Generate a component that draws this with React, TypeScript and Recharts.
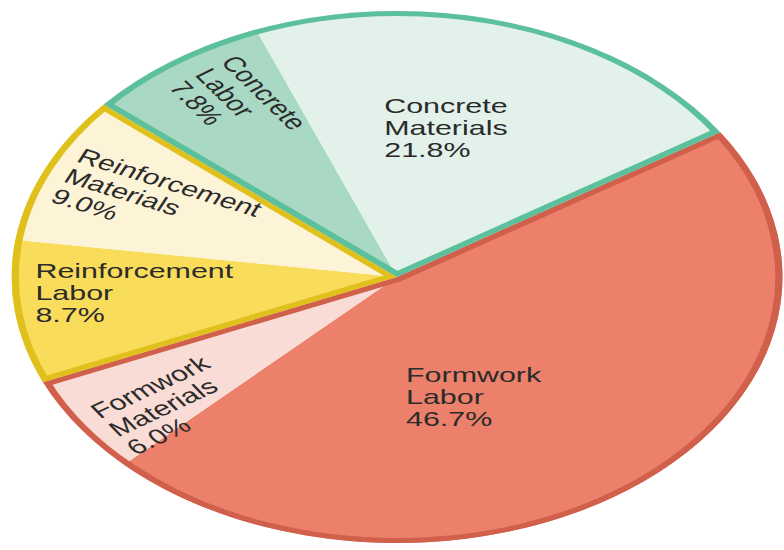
import React from 'react';
import { PieChart, Pie, Cell, Sector } from 'recharts';

// cost breakdown, clockwise from the upper right
const slices = [
  'Formwork Labor',
  'Formwork Materials',
  'Reinforcement Labor',
  'Reinforcement Materials',
  'Concrete Labor',
  'Concrete Materials',
];
const shares = [46.7, 6.0, 8.7, 9.0, 7.8, 21.8];
const groups = ['Formwork', 'Reinforcement', 'Concrete'];

const fills = ['#ec806a', '#f9dcd5', '#f8dc5a', '#fdf4d8', '#a9d8c4', '#e2f1ea'];
const groupStroke: Record<string, string> = {
  Formwork: '#d0604c',
  Reinforcement: '#e0c01c',
  Concrete: '#5cc09c',
};

const data = slices.map((name, i) => ({ name, value: shares[i] }));
const groupData = groups.map((g) => ({
  name: g,
  value: slices.reduce((s, n, i) => (n.startsWith(g) ? s + shares[i] : s), 0),
}));

// the reference is a round pie stretched sideways
const STRETCH = 1.449;
const W = 541;
const H = 550;
const CX = 274;
const CY = 277;
const R = 266;

const FONT = 21;
const LINE = 22;
const CAP = 15;
const FONT_FAMILY = "'Liberation Sans', Arial, sans-serif";
const RAD = Math.PI / 180;

// big slices get a centred, level label; small ones read inwards from the rim
const LABEL_TWEAK: Record<string, { da: number; r: number }> = {
  'Concrete Materials': { da: 5, r: 0.575 },
  'Formwork Labor': { da: -15, r: 0.49 },
  'Reinforcement Labor': { da: -4, r: 0.94 },
  'Formwork Materials': { da: 4, r: 0.94 },
  'Concrete Labor': { da: -2.5, r: 0.925 },
};

let ctx: CanvasRenderingContext2D | null = null;
const measure = (s: string) => {
  if (!ctx) ctx = document.createElement('canvas').getContext('2d');
  if (!ctx) return s.length * FONT * 0.52;
  ctx.font = `${FONT}px ${FONT_FAMILY}`;
  return ctx.measureText(s).width;
};

const renderLabel = (p: any) => {
  const { cx, cy, midAngle, outerRadius, index } = p;
  const name = slices[index];
  const lines = [...name.split(' '), `${shares[index].toFixed(1)}%`];
  const radial = shares[index] < 10;
  const tw = LABEL_TWEAK[name] ?? { da: 0, r: 0.94 };
  const a = (midAngle + tw.da) * RAD;
  const ax = cx + outerRadius * tw.r * Math.cos(a);
  const ay = cy - outerRadius * tw.r * Math.sin(a);
  const y0 = -(LINE * (lines.length - 1) + CAP) / 2 + CAP;

  let rot = 0;
  let x0 = 0;
  if (radial) {
    const m = midAngle * RAD;
    rot = Math.atan2(Math.sin(m), -Math.cos(m)) / RAD;
    if (Math.abs(rot) < 10) rot = 0;
  } else {
    x0 = -Math.max(...lines.map(measure)) / 2;
  }

  return (
    <g key={`lbl-${index}`} transform={`translate(${ax},${ay}) rotate(${rot})`}>
      {lines.map((t, i) => (
        <text
          key={i}
          x={x0}
          y={y0 + i * LINE}
          fill="#2b2b2b"
          fontSize={FONT}
          fontFamily={FONT_FAMILY}
          textAnchor="start"
        >
          {t}
        </text>
      ))}
    </g>
  );
};

// group outline drawn inside its own sector so neighbouring borders sit side by side
const GroupOutline = (props: any) => {
  const { cx, cy, innerRadius, outerRadius, startAngle, endAngle, index, name, payload } = props;
  const g = name ?? payload?.name ?? groups[index];
  const id = `grp-clip-${index}`;
  const geo = { cx, cy, innerRadius, outerRadius, startAngle, endAngle };
  return (
    <g>
      <defs>
        <clipPath id={id}>
          <Sector {...geo} />
        </clipPath>
      </defs>
      <Sector {...geo} fill="none" stroke={groupStroke[g]} strokeWidth={10} clipPath={`url(#${id})`} />
    </g>
  );
};

export default function App() {
  return (
    <div
      style={{
        position: 'fixed',
        left: 0,
        top: 0,
        width: W,
        height: H,
        background: '#fff',
        transform: `scaleX(${STRETCH})`,
        transformOrigin: '0 0',
      }}
    >
      <PieChart width={W} height={H} margin={{ top: 0, right: 0, bottom: 0, left: 0 }}>
        <Pie
          data={data}
          dataKey="value"
          nameKey="name"
          cx={CX}
          cy={CY}
          outerRadius={R}
          startAngle={33}
          endAngle={-327}
          stroke="none"
          labelLine={false}
          label={renderLabel}
          isAnimationActive={false}
        >
          {data.map((d, i) => (
            <Cell key={d.name} fill={fills[i]} />
          ))}
        </Pie>
        <Pie
          data={groupData}
          dataKey="value"
          nameKey="name"
          cx={CX}
          cy={CY}
          outerRadius={R}
          startAngle={33}
          endAngle={-327}
          fill="none"
          shape={GroupOutline}
          isAnimationActive={false}
        />
      </PieChart>
    </div>
  );
}
